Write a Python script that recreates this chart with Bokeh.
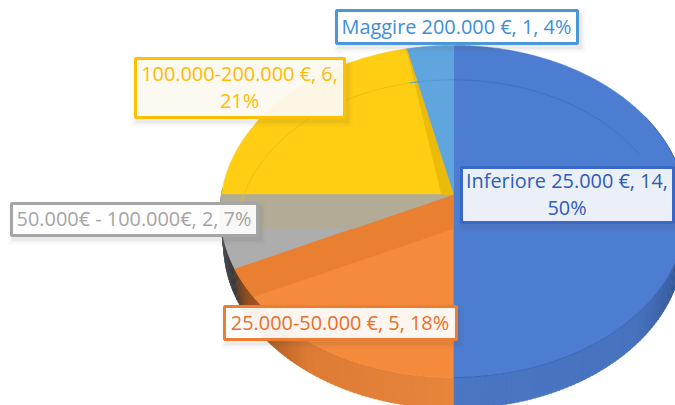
import math
from bokeh.plotting import figure
from bokeh.core.properties import value
from bokeh.embed import file_html
from bokeh.resources import INLINE

# ---- data
categories = ["Inferiore 25.000 €", "25.000-50.000 €", "50.000€ - 100.000€", "100.000-200.000 €", "Maggire 200.000 €"]
counts = [14, 5, 2, 6, 1]
percents = [50, 18, 7, 21, 4]

# ---- styles
face_colors = ["#4D7DD1", "#F48A3B", "#ADADAD", "#FFCD11", "#5FA6DE"]
text_colors = ["#2F5CB8", "#E9702A", "#A5A5A5", "#FFBB00", "#3F8FD6"]
border_colors = ["#3A68C6", "#ED7D31", "#A5A5A5", "#FFC000", "#4B97D8"]
box_fills = ["#F1F4FA", "#FFFFFF", "#FFFFFF", "#FDFAF0", "#FFFFFF"]
box_alpha = [0.97, 0.92, 0.92, 0.95, 0.95]
line_breaks = [True, False, False, True, False]
# label boxes: left, right, top, bottom in page pixels
box_left = [461, 224, 11, 135, 336]
box_right = [673, 456, 257, 344, 577]
box_top = [167, 306, 203, 58, 10]
box_bottom = [222, 339, 235, 117, 43]

# ---- projection of the pie (page pixels)
CX, CY, RX, A, K = 453.0, 194.0, 232.0, 164.3, 0.102
DEPTH = 34.0
FONT = "Open Sans"


def rim(theta, scale=1.0, dx=0.0, dy=0.0):
    t = math.radians(theta)
    u, v = math.sin(t), math.cos(t)
    w = 1 + K * v
    return CX + dx + RX * scale * u / w, CY + dy - A * scale * v / w


def arc(a, b, **kw):
    n = max(2, int(abs(b - a) * 2))
    return [rim(a + (b - a) * i / n, **kw) for i in range(n + 1)]


def clip(poly, inside):
    """Keep the part of poly where inside(x, y) >= 0."""
    out = []
    for i, p in enumerate(poly):
        q = poly[(i + 1) % len(poly)]
        fp, fq = inside(*p), inside(*q)
        if fp >= 0:
            out.append(p)
        if (fp >= 0) != (fq >= 0):
            s = fp / (fp - fq)
            out.append((p[0] + s * (q[0] - p[0]), p[1] + s * (q[1] - p[1])))
    return out


def mix(c1, c2, s):
    a = [int(c1[i:i + 2], 16) for i in (1, 3, 5)]
    b = [int(c2[i:i + 2], 16) for i in (1, 3, 5)]
    return "#%02X%02X%02X" % tuple(round(x + (y - x) * s) for x, y in zip(a, b))


total = sum(counts)
edges = [0.0]
for c in counts:
    edges.append(edges[-1] + 360.0 * c / total)

p = figure(width=675, height=405, x_range=(0, 675), y_range=(405, 0),
           output_backend="svg", toolbar_location=None, min_border=0,
           outline_line_color=None, background_fill_color="white")
p.xaxis.visible = False
p.yaxis.visible = False
p.grid.visible = False


def poly(points, color, alpha=1.0):
    p.patch([q[0] for q in points], [q[1] for q in points], fill_color=color,
            fill_alpha=alpha, line_color=color, line_alpha=alpha, line_width=0.5)


# side wall
side_stops = [(88, "#1E3558"), (104, "#30508C"), (132, "#4672BE"), (179.9, "#4A76C4"),
              (180, "#E8853D"), (215, "#DD7A33"), (238, "#8F4A1C"), (246, "#3A3A3A"), (272, "#55606E")]
xs, ys, cols = [], [], []
step = 1.0
th = 88.0
while th < 272:
    a = arc(th, th + step + 0.3)
    b = arc(th + step + 0.3, th, scale=0.985, dy=DEPTH)
    q = a + b
    xs.append([pt[0] for pt in q])
    ys.append([pt[1] for pt in q])
    col = side_stops[-1][1]
    for (s0, c0), (s1, c1) in zip(side_stops, side_stops[1:]):
        if s0 <= th < s1:
            col = mix(c0, c1, (th - s0) / (s1 - s0))
            break
    cols.append(col)
    th += step
p.patches(xs, ys, fill_color=cols, line_color=cols, line_width=0.5)

# top faces
center = (CX, CY)
for i in range(len(counts)):
    poly([center] + arc(edges[i], edges[i + 1]), face_colors[i])

# inner walls seen through the translucent pie
ox, oy = rim(edges[2])
dirx, diry = ox - CX, oy - CY


def above_shifted(x, y):
    # positive on the upper side of the orange edge moved down by DEPTH
    line_y = CY + DEPTH + diry * (x - CX) / dirx
    return line_y - y


orange_sector = [center] + arc(edges[1], edges[2])
poly(clip(orange_sector, above_shifted), "#E97F30")

grey_sector = [center] + arc(edges[2], edges[3])
poly(clip(grey_sector, lambda x, y: CY + DEPTH - y), "#B2AC97")

# yellow strip along the boundary with the light blue slice
yx, yy = rim(edges[4])
poly([center, (yx, yy), (CX - 12, CY)], "#EBBB0B")

# hairlines
for i, col in [(3, "#EDBE10"), (4, "#5798D0"), (0, "#4470C4")]:
    a0, a1 = edges[i], edges[i + 1]
    if i == 0:
        a1 = 65
    pts = arc(a0, a1, scale=0.93, dy=24)
    p.line([q[0] for q in pts], [q[1] for q in pts], line_color=col, line_width=1)
rim_pts = arc(60, 180)
p.line([q[0] for q in rim_pts], [q[1] for q in rim_pts], line_color="#3B67B8", line_width=1)
p.line([CX, CX], [CY, rim(180)[1] + DEPTH], line_color="#E57A2D", line_width=1)

# labels
for i in [4, 3, 2, 1, 0]:
    l, r, t, b = box_left[i], box_right[i], box_top[i], box_bottom[i]
    for g, al in [(5, 0.03), (3, 0.04), (1.5, 0.05)]:
        p.quad(left=[l - g + 2], right=[r + g + 3], top=[t - g + 4], bottom=[b + g + 4],
               fill_color="#555555", fill_alpha=al, line_color=None)
    p.quad(left=[l], right=[r], top=[t], bottom=[b], fill_color=box_fills[i], fill_alpha=box_alpha[i],
           line_color=border_colors[i], line_width=3)
    sep = ",\n" if line_breaks[i] else ", "
    label = f"{categories[i]}, {counts[i]}{sep}{percents[i]}%"
    p.text([(l + r) / 2 - 0.5], [(t + b) / 2 - 1], text=[label], text_align="center", text_baseline="middle",
           text_font=value(FONT), text_font_size="19.9px", text_color=text_colors[i], text_line_height=0.98)

open("out.html", "w").write(file_html(p, INLINE))
